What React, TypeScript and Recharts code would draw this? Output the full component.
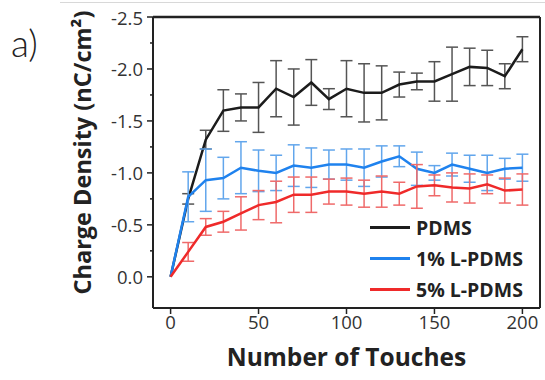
import React from 'react';
import { LineChart, Line, XAxis, YAxis, ErrorBar, ReferenceLine } from 'recharts';

// number of touches (x) and charge density readings (nC/cm2) for each film
const touches = [0, 10, 20, 30, 40, 50, 60, 70, 80, 90, 100, 110, 120, 130, 140, 150, 160, 170, 180, 190, 200];
const pdms = [0, -0.75, -1.32, -1.6, -1.63, -1.63, -1.81, -1.73, -1.87, -1.71, -1.81, -1.77, -1.77, -1.85, -1.88, -1.88, -1.95, -2.02, -2.01, -1.93, -2.19];
const pdmsErr = [null, 0.05, 0.09, 0.2, 0.13, 0.24, 0.27, 0.27, 0.22, 0.1, 0.27, 0.28, 0.26, 0.12, 0.08, 0.19, 0.26, 0.18, 0.17, 0.12, 0.12];
const lpdms1 = [0, -0.77, -0.93, -0.95, -1.05, -1.02, -1.0, -1.07, -1.05, -1.08, -1.08, -1.05, -1.11, -1.16, -1.04, -1.0, -1.08, -1.04, -1.0, -1.04, -1.05];
const lpdms1Err = [null, 0.24, 0.3, 0.2, 0.25, 0.2, 0.17, 0.2, 0.19, 0.14, 0.15, 0.18, 0.15, 0.1, 0.16, 0.07, 0.11, 0.13, 0.17, 0.1, 0.13];
const lpdms5 = [0, -0.24, -0.48, -0.53, -0.61, -0.69, -0.72, -0.79, -0.79, -0.82, -0.82, -0.8, -0.82, -0.8, -0.87, -0.88, -0.86, -0.85, -0.89, -0.83, -0.84];
const lpdms5Err = [null, 0.09, 0.08, 0.1, 0.16, 0.14, 0.2, 0.17, 0.17, 0.12, 0.13, 0.13, 0.15, 0.11, 0.21, 0.1, 0.14, 0.14, 0.09, 0.12, 0.15];

const xTicks = [0, 50, 100, 150, 200];
const yTicks = [-2.5, -2.25, -2.0, -1.75, -1.5, -1.25, -1.0, -0.75, -0.5, -0.25, 0];

const seriesNames = ['PDMS', '1% L-PDMS', '5% L-PDMS'];
const lineColors = ['#1c1c1c', '#1f82ee', '#ef2a2a'];
const barColors = ['#555555', '#62a6ec', '#ef6a6a'];

const data = touches.map((t, i) => ({
  touches: t,
  pdms: pdms[i],
  pdmsErr: pdmsErr[i],
  lpdms1: lpdms1[i],
  lpdms1Err: lpdms1Err[i],
  lpdms5: lpdms5[i],
  lpdms5Err: lpdms5Err[i],
}));

const FONT = '"Open Sans", "DejaVu Sans", sans-serif';
const TICK_SIZE = 6;
const TICK_MARGIN = 4;

const YTick = (props: any) => {
  const { x, y, payload } = props;
  const v = payload.value;
  const major = Math.abs(v * 2 - Math.round(v * 2)) < 1e-6;
  const ax = x + TICK_SIZE + TICK_MARGIN;
  return (
    <g>
      <line x1={ax} x2={major ? ax - TICK_SIZE : ax - 3} y1={y} y2={y} stroke="#222" strokeWidth={1.5} />
      {major && (
        <text x={x} y={y} textAnchor="end" dominantBaseline="central" fontSize={18.5} fill="#333" fontFamily={FONT}>
          {v.toFixed(1)}
        </text>
      )}
    </g>
  );
};

const YLabel = (props: any) => {
  const { viewBox } = props;
  const cx = viewBox.x + 82;
  const cy = viewBox.y + viewBox.height / 2 - 10;
  return (
    <text
      transform={`translate(${cx},${cy}) rotate(-90)`}
      textAnchor="middle"
      dominantBaseline="central"
      fontSize={23.5}
      fontWeight={700}
      fill="#222"
      fontFamily={FONT}
    >
      Charge Density (nC/cm²)
    </text>
  );
};

const XLabel = (props: any) => {
  const { viewBox } = props;
  return (
    <text
      x={viewBox.x + viewBox.width / 2}
      y={viewBox.y + 48}
      textAnchor="middle"
      dominantBaseline="central"
      fontSize={24.5}
      fontWeight={700}
      fill="#222"
      fontFamily={FONT}
    >
      Number of Touches
    </text>
  );
};

export default function App() {
  return (
    <div style={{ position: 'absolute', left: 0, top: 0, width: 545, height: 380, background: '#fff', fontFamily: FONT }}>
      <div style={{ position: 'absolute', left: 60, top: 2, width: 485, height: 0, borderTop: '1px solid #d8d8d8' }} />
      <div style={{ position: 'absolute', left: 11, top: 20, fontSize: 37, fontWeight: 300, color: '#222', fontFamily: '"Lato", sans-serif' }}>
        a)
      </div>
      <LineChart width={545} height={380} data={data} margin={{ top: 17, right: 5, bottom: 0, left: 0 }}>
        <XAxis
          dataKey="touches"
          type="number"
          domain={[-10, 210]}
          ticks={xTicks}
          height={72}
          axisLine={{ stroke: '#222', strokeWidth: 2 }}
          tickLine={{ stroke: '#222', strokeWidth: 1.5 }}
          tickSize={6}
          tickMargin={2}
          tick={{ fontSize: 18.5, fill: '#333', fontFamily: FONT }}
          label={{ content: <XLabel /> }}
        />
        <YAxis
          type="number"
          domain={[-2.5, 0.3]}
          reversed
          allowDataOverflow
          ticks={yTicks}
          interval={0}
          width={153}
          axisLine={{ stroke: '#222', strokeWidth: 2 }}
          tickLine={false}
          tickSize={TICK_SIZE}
          tickMargin={TICK_MARGIN}
          tick={<YTick />}
          label={{ content: <YLabel /> }}
        />
        <ReferenceLine y={-2.5} stroke="#222" strokeWidth={2.5} />
        <ReferenceLine x={210} stroke="#222" strokeWidth={2} />
        <Line type="linear" dataKey="pdms" stroke={lineColors[0]} strokeWidth={2.5} dot={false} isAnimationActive={false}>
          <ErrorBar dataKey="pdmsErr" width={6} stroke={barColors[0]} strokeWidth={1.5} isAnimationActive={false} />
        </Line>
        <Line type="linear" dataKey="lpdms1" stroke={lineColors[1]} strokeWidth={2.5} dot={false} isAnimationActive={false}>
          <ErrorBar dataKey="lpdms1Err" width={6} stroke={barColors[1]} strokeWidth={1.5} isAnimationActive={false} />
        </Line>
        <Line type="linear" dataKey="lpdms5" stroke={lineColors[2]} strokeWidth={2.5} dot={false} isAnimationActive={false}>
          <ErrorBar dataKey="lpdms5Err" width={6} stroke={barColors[2]} strokeWidth={1.5} isAnimationActive={false} />
        </Line>
      </LineChart>
      <div style={{ position: 'absolute', left: 370, top: 212 }}>
        {seriesNames.map((name, i) => (
          <div key={name} style={{ display: 'flex', alignItems: 'center', height: 31 }}>
            <div style={{ width: 40, height: 3, background: lineColors[i], marginRight: 6 }} />
            <span style={{ fontSize: 19.5, fontWeight: 700, color: '#222', lineHeight: '31px' }}>{name}</span>
          </div>
        ))}
      </div>
    </div>
  );
}
